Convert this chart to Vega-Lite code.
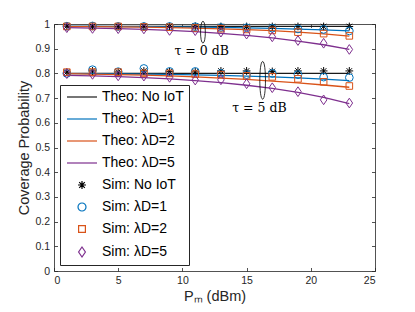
{
"$schema":"https://vega.github.io/schema/vega-lite/v6.json",
"autosize":"none",
"width":321,"height":247,
"padding":{"left":54,"top":24,"right":40,"bottom":41},
"background":"white",
"config":{"font":"Liberation Sans","view":{"stroke":null},
"axis":{"grid":false,"domainColor":"#262626","tickColor":"#262626","labelColor":"#262626","titleColor":"#262626","labelFontSize":10.5,"titleFontSize":14.5,"titleFontWeight":"normal","labelFont":"Liberation Sans","titleFont":"Liberation Sans","domainWidth":0.8,"tickWidth":0.8},
"legend":{"labelFont":"Liberation Sans","labelFontSize":14,"labelColor":"#000000","fillColor":"white","strokeColor":"#262626","padding":5,"cornerRadius":0}},
"datasets":{
"theo":[
{"P":1,"t":"0","s":"Theo: No IoT","v":0.99},{"P":3,"t":"0","s":"Theo: No IoT","v":0.99},{"P":5,"t":"0","s":"Theo: No IoT","v":0.99},{"P":7,"t":"0","s":"Theo: No IoT","v":0.99},{"P":9,"t":"0","s":"Theo: No IoT","v":0.99},{"P":11,"t":"0","s":"Theo: No IoT","v":0.99},{"P":13,"t":"0","s":"Theo: No IoT","v":0.99},{"P":15,"t":"0","s":"Theo: No IoT","v":0.99},{"P":17,"t":"0","s":"Theo: No IoT","v":0.99},{"P":19,"t":"0","s":"Theo: No IoT","v":0.99},{"P":21,"t":"0","s":"Theo: No IoT","v":0.99},{"P":23,"t":"0","s":"Theo: No IoT","v":0.99},
{"P":1,"t":"0","s":"Theo: λD=1","v":0.990},{"P":3,"t":"0","s":"Theo: λD=1","v":0.990},{"P":5,"t":"0","s":"Theo: λD=1","v":0.989},{"P":7,"t":"0","s":"Theo: λD=1","v":0.989},{"P":9,"t":"0","s":"Theo: λD=1","v":0.988},{"P":11,"t":"0","s":"Theo: λD=1","v":0.987},{"P":13,"t":"0","s":"Theo: λD=1","v":0.986},{"P":15,"t":"0","s":"Theo: λD=1","v":0.984},{"P":17,"t":"0","s":"Theo: λD=1","v":0.982},{"P":19,"t":"0","s":"Theo: λD=1","v":0.979},{"P":21,"t":"0","s":"Theo: λD=1","v":0.976},{"P":23,"t":"0","s":"Theo: λD=1","v":0.972},
{"P":1,"t":"0","s":"Theo: λD=2","v":0.989},{"P":3,"t":"0","s":"Theo: λD=2","v":0.989},{"P":5,"t":"0","s":"Theo: λD=2","v":0.988},{"P":7,"t":"0","s":"Theo: λD=2","v":0.987},{"P":9,"t":"0","s":"Theo: λD=2","v":0.985},{"P":11,"t":"0","s":"Theo: λD=2","v":0.983},{"P":13,"t":"0","s":"Theo: λD=2","v":0.980},{"P":15,"t":"0","s":"Theo: λD=2","v":0.977},{"P":17,"t":"0","s":"Theo: λD=2","v":0.973},{"P":19,"t":"0","s":"Theo: λD=2","v":0.967},{"P":21,"t":"0","s":"Theo: λD=2","v":0.960},{"P":23,"t":"0","s":"Theo: λD=2","v":0.951},
{"P":1,"t":"0","s":"Theo: λD=5","v":0.985},{"P":3,"t":"0","s":"Theo: λD=5","v":0.983},{"P":5,"t":"0","s":"Theo: λD=5","v":0.981},{"P":7,"t":"0","s":"Theo: λD=5","v":0.978},{"P":9,"t":"0","s":"Theo: λD=5","v":0.974},{"P":11,"t":"0","s":"Theo: λD=5","v":0.969},{"P":13,"t":"0","s":"Theo: λD=5","v":0.962},{"P":15,"t":"0","s":"Theo: λD=5","v":0.954},{"P":17,"t":"0","s":"Theo: λD=5","v":0.944},{"P":19,"t":"0","s":"Theo: λD=5","v":0.931},{"P":21,"t":"0","s":"Theo: λD=5","v":0.916},{"P":23,"t":"0","s":"Theo: λD=5","v":0.897},
{"P":1,"t":"5","s":"Theo: No IoT","v":0.80},{"P":3,"t":"5","s":"Theo: No IoT","v":0.80},{"P":5,"t":"5","s":"Theo: No IoT","v":0.80},{"P":7,"t":"5","s":"Theo: No IoT","v":0.80},{"P":9,"t":"5","s":"Theo: No IoT","v":0.80},{"P":11,"t":"5","s":"Theo: No IoT","v":0.80},{"P":13,"t":"5","s":"Theo: No IoT","v":0.80},{"P":15,"t":"5","s":"Theo: No IoT","v":0.80},{"P":17,"t":"5","s":"Theo: No IoT","v":0.80},{"P":19,"t":"5","s":"Theo: No IoT","v":0.80},{"P":21,"t":"5","s":"Theo: No IoT","v":0.80},{"P":23,"t":"5","s":"Theo: No IoT","v":0.80},
{"P":1,"t":"5","s":"Theo: λD=1","v":0.799},{"P":3,"t":"5","s":"Theo: λD=1","v":0.799},{"P":5,"t":"5","s":"Theo: λD=1","v":0.798},{"P":7,"t":"5","s":"Theo: λD=1","v":0.797},{"P":9,"t":"5","s":"Theo: λD=1","v":0.796},{"P":11,"t":"5","s":"Theo: λD=1","v":0.794},{"P":13,"t":"5","s":"Theo: λD=1","v":0.792},{"P":15,"t":"5","s":"Theo: λD=1","v":0.789},{"P":17,"t":"5","s":"Theo: λD=1","v":0.786},{"P":19,"t":"5","s":"Theo: λD=1","v":0.782},{"P":21,"t":"5","s":"Theo: λD=1","v":0.777},{"P":23,"t":"5","s":"Theo: λD=1","v":0.771},
{"P":1,"t":"5","s":"Theo: λD=2","v":0.799},{"P":3,"t":"5","s":"Theo: λD=2","v":0.797},{"P":5,"t":"5","s":"Theo: λD=2","v":0.795},{"P":7,"t":"5","s":"Theo: λD=2","v":0.793},{"P":9,"t":"5","s":"Theo: λD=2","v":0.790},{"P":11,"t":"5","s":"Theo: λD=2","v":0.786},{"P":13,"t":"5","s":"Theo: λD=2","v":0.781},{"P":15,"t":"5","s":"Theo: λD=2","v":0.776},{"P":17,"t":"5","s":"Theo: λD=2","v":0.769},{"P":19,"t":"5","s":"Theo: λD=2","v":0.762},{"P":21,"t":"5","s":"Theo: λD=2","v":0.753},{"P":23,"t":"5","s":"Theo: λD=2","v":0.744},
{"P":1,"t":"5","s":"Theo: λD=5","v":0.792},{"P":3,"t":"5","s":"Theo: λD=5","v":0.790},{"P":5,"t":"5","s":"Theo: λD=5","v":0.787},{"P":7,"t":"5","s":"Theo: λD=5","v":0.783},{"P":9,"t":"5","s":"Theo: λD=5","v":0.778},{"P":11,"t":"5","s":"Theo: λD=5","v":0.771},{"P":13,"t":"5","s":"Theo: λD=5","v":0.763},{"P":15,"t":"5","s":"Theo: λD=5","v":0.752},{"P":17,"t":"5","s":"Theo: λD=5","v":0.739},{"P":19,"t":"5","s":"Theo: λD=5","v":0.723},{"P":21,"t":"5","s":"Theo: λD=5","v":0.703},{"P":23,"t":"5","s":"Theo: λD=5","v":0.678}
],
"sim":[
{"P":1,"t":"0","s":"Sim: No IoT","v":0.991},{"P":3,"t":"0","s":"Sim: No IoT","v":0.991},{"P":5,"t":"0","s":"Sim: No IoT","v":0.99},{"P":7,"t":"0","s":"Sim: No IoT","v":0.99},{"P":9,"t":"0","s":"Sim: No IoT","v":0.99},{"P":11,"t":"0","s":"Sim: No IoT","v":0.991},{"P":13,"t":"0","s":"Sim: No IoT","v":0.99},{"P":15,"t":"0","s":"Sim: No IoT","v":0.99},{"P":17,"t":"0","s":"Sim: No IoT","v":0.99},{"P":19,"t":"0","s":"Sim: No IoT","v":0.99},{"P":21,"t":"0","s":"Sim: No IoT","v":0.99},{"P":23,"t":"0","s":"Sim: No IoT","v":0.99},
{"P":1,"t":"0","s":"Sim: λD=1","v":0.991},{"P":3,"t":"0","s":"Sim: λD=1","v":0.992},{"P":5,"t":"0","s":"Sim: λD=1","v":0.99},{"P":7,"t":"0","s":"Sim: λD=1","v":0.99},{"P":9,"t":"0","s":"Sim: λD=1","v":0.99},{"P":11,"t":"0","s":"Sim: λD=1","v":0.989},{"P":13,"t":"0","s":"Sim: λD=1","v":0.986},{"P":15,"t":"0","s":"Sim: λD=1","v":0.985},{"P":17,"t":"0","s":"Sim: λD=1","v":0.983},{"P":19,"t":"0","s":"Sim: λD=1","v":0.98},{"P":21,"t":"0","s":"Sim: λD=1","v":0.978},{"P":23,"t":"0","s":"Sim: λD=1","v":0.972},
{"P":1,"t":"0","s":"Sim: λD=2","v":0.99},{"P":3,"t":"0","s":"Sim: λD=2","v":0.99},{"P":5,"t":"0","s":"Sim: λD=2","v":0.99},{"P":7,"t":"0","s":"Sim: λD=2","v":0.988},{"P":9,"t":"0","s":"Sim: λD=2","v":0.987},{"P":11,"t":"0","s":"Sim: λD=2","v":0.984},{"P":13,"t":"0","s":"Sim: λD=2","v":0.981},{"P":15,"t":"0","s":"Sim: λD=2","v":0.978},{"P":17,"t":"0","s":"Sim: λD=2","v":0.974},{"P":19,"t":"0","s":"Sim: λD=2","v":0.967},{"P":21,"t":"0","s":"Sim: λD=2","v":0.961},{"P":23,"t":"0","s":"Sim: λD=2","v":0.952},
{"P":1,"t":"0","s":"Sim: λD=5","v":0.985},{"P":3,"t":"0","s":"Sim: λD=5","v":0.982},{"P":5,"t":"0","s":"Sim: λD=5","v":0.981},{"P":7,"t":"0","s":"Sim: λD=5","v":0.980},{"P":9,"t":"0","s":"Sim: λD=5","v":0.974},{"P":11,"t":"0","s":"Sim: λD=5","v":0.973},{"P":13,"t":"0","s":"Sim: λD=5","v":0.967},{"P":15,"t":"0","s":"Sim: λD=5","v":0.959},{"P":17,"t":"0","s":"Sim: λD=5","v":0.948},{"P":19,"t":"0","s":"Sim: λD=5","v":0.933},{"P":21,"t":"0","s":"Sim: λD=5","v":0.922},{"P":23,"t":"0","s":"Sim: λD=5","v":0.897},
{"P":1,"t":"5","s":"Sim: No IoT","v":0.805},{"P":3,"t":"5","s":"Sim: No IoT","v":0.81},{"P":5,"t":"5","s":"Sim: No IoT","v":0.806},{"P":7,"t":"5","s":"Sim: No IoT","v":0.81},{"P":9,"t":"5","s":"Sim: No IoT","v":0.807},{"P":11,"t":"5","s":"Sim: No IoT","v":0.806},{"P":13,"t":"5","s":"Sim: No IoT","v":0.81},{"P":15,"t":"5","s":"Sim: No IoT","v":0.81},{"P":17,"t":"5","s":"Sim: No IoT","v":0.808},{"P":19,"t":"5","s":"Sim: No IoT","v":0.81},{"P":21,"t":"5","s":"Sim: No IoT","v":0.81},{"P":23,"t":"5","s":"Sim: No IoT","v":0.81},
{"P":1,"t":"5","s":"Sim: λD=1","v":0.80},{"P":3,"t":"5","s":"Sim: λD=1","v":0.815},{"P":5,"t":"5","s":"Sim: λD=1","v":0.807},{"P":7,"t":"5","s":"Sim: λD=1","v":0.82},{"P":9,"t":"5","s":"Sim: λD=1","v":0.808},{"P":11,"t":"5","s":"Sim: λD=1","v":0.808},{"P":13,"t":"5","s":"Sim: λD=1","v":0.80},{"P":15,"t":"5","s":"Sim: λD=1","v":0.795},{"P":17,"t":"5","s":"Sim: λD=1","v":0.80},{"P":19,"t":"5","s":"Sim: λD=1","v":0.795},{"P":21,"t":"5","s":"Sim: λD=1","v":0.785},{"P":23,"t":"5","s":"Sim: λD=1","v":0.783},
{"P":1,"t":"5","s":"Sim: λD=2","v":0.805},{"P":3,"t":"5","s":"Sim: λD=2","v":0.805},{"P":5,"t":"5","s":"Sim: λD=2","v":0.805},{"P":7,"t":"5","s":"Sim: λD=2","v":0.80},{"P":9,"t":"5","s":"Sim: λD=2","v":0.80},{"P":11,"t":"5","s":"Sim: λD=2","v":0.797},{"P":13,"t":"5","s":"Sim: λD=2","v":0.795},{"P":15,"t":"5","s":"Sim: λD=2","v":0.79},{"P":17,"t":"5","s":"Sim: λD=2","v":0.786},{"P":19,"t":"5","s":"Sim: λD=2","v":0.778},{"P":21,"t":"5","s":"Sim: λD=2","v":0.766},{"P":23,"t":"5","s":"Sim: λD=2","v":0.749},
{"P":1,"t":"5","s":"Sim: λD=5","v":0.799},{"P":3,"t":"5","s":"Sim: λD=5","v":0.796},{"P":5,"t":"5","s":"Sim: λD=5","v":0.790},{"P":7,"t":"5","s":"Sim: λD=5","v":0.789},{"P":9,"t":"5","s":"Sim: λD=5","v":0.784},{"P":11,"t":"5","s":"Sim: λD=5","v":0.773},{"P":13,"t":"5","s":"Sim: λD=5","v":0.774},{"P":15,"t":"5","s":"Sim: λD=5","v":0.758},{"P":17,"t":"5","s":"Sim: λD=5","v":0.742},{"P":19,"t":"5","s":"Sim: λD=5","v":0.726},{"P":21,"t":"5","s":"Sim: λD=5","v":0.693},{"P":23,"t":"5","s":"Sim: λD=5","v":0.680}
],
"ann":[{"P":11.5,"v":0.889,"label":"τ = 0 dB"},{"P":16.0,"v":0.659,"label":"τ = 5 dB"}],
"ell1":[{"P":11.6,"v":0.967}],
"ell2":[{"P":16.25,"v":0.772}]
},
"layer":[
{"data":{"name":"theo"},"mark":{"type":"line","strokeWidth":1.3},
 "encoding":{
  "x":{"field":"P","type":"quantitative","scale":{"domain":[0,25],"nice":false},"axis":{"values":[0,5,10,15,20,25],"tickSize":-3.5,"labelPadding":8,"title":"Pₘ (dBm)","titlePadding":3}},
  "y":{"field":"v","type":"quantitative","scale":{"domain":[0,1],"nice":false},"axis":{"values":[0,0.1,0.2,0.3,0.4,0.5,0.6,0.7,0.8,0.9,1],"format":"~g","tickSize":-3.5,"labelPadding":8,"title":"Coverage Probability","titlePadding":3}},
  "color":{"field":"s","type":"nominal","scale":{"domain":["Theo: No IoT","Theo: λD=1","Theo: λD=2","Theo: λD=5","Sim: No IoT","Sim: λD=1","Sim: λD=2","Sim: λD=5"],"range":["#1a1a1a","#0072BD","#D95319","#7E2F8E","#000000","#0072BD","#D95319","#7E2F8E"]},
   "legend":{"title":null,"orient":"bottom-left","offset":6,"symbolStrokeWidth":1.2,"symbolSize":64,"rowPadding":8,"symbolOffset":10,"labelOffset":13}},
  "detail":{"field":"t"}}},
{"data":{"name":"sim"},"mark":{"type":"point","filled":false,"strokeWidth":1,"opacity":1,"size":60},
 "encoding":{
  "x":{"field":"P","type":"quantitative","axis":null},
  "y":{"field":"v","type":"quantitative","axis":null},
  "color":{"field":"s","type":"nominal"},
  "shape":{"field":"s","type":"nominal","scale":{"domain":["Theo: No IoT","Theo: λD=1","Theo: λD=2","Theo: λD=5","Sim: No IoT","Sim: λD=1","Sim: λD=2","Sim: λD=5"],"range":["M-3.75,0L3.75,0","M-3.75,0L3.75,0","M-3.75,0L3.75,0","M-3.75,0L3.75,0","M-1,0L1,0M0,-1L0,1M-0.7,-0.7L0.7,0.7M-0.7,0.7L0.7,-0.7","circle","M-0.85,-0.85L0.85,-0.85L0.85,0.85L-0.85,0.85Z","M0,-1.25L0.85,0L0,1.25L-0.85,0Z"]}}}},
{"data":{"name":"ann"},"mark":{"type":"text","font":"DejaVu Serif","fontSize":12.5,"color":"#000000","align":"center","baseline":"middle"},
 "encoding":{"x":{"field":"P","type":"quantitative","axis":null},"y":{"field":"v","type":"quantitative","axis":null},"text":{"field":"label"}}},
{"data":{"name":"ell1"},"mark":{"type":"point","shape":"M0,-1C0.29,-1 0.29,1 0,1C-0.29,1 -0.29,-1 0,-1Z","size":480,"filled":false,"stroke":"#000000","strokeWidth":0.8,"opacity":1},
 "encoding":{"x":{"field":"P","type":"quantitative","axis":{"orient":"top","labels":false,"title":null,"values":[0,5,10,15,20,25],"tickSize":-3.5}},"y":{"field":"v","type":"quantitative","axis":{"orient":"right","labels":false,"title":null,"values":[0,0.1,0.2,0.3,0.4,0.5,0.6,0.7,0.8,0.9,1],"tickSize":-3.5}}}},
{"data":{"name":"ell2"},"mark":{"type":"point","shape":"M0,-1C0.2,-1 0.2,1 0,1C-0.2,1 -0.2,-1 0,-1Z","size":1420,"filled":false,"stroke":"#000000","strokeWidth":0.8,"opacity":1},
 "encoding":{"x":{"field":"P","type":"quantitative","axis":null},"y":{"field":"v","type":"quantitative","axis":null}}}
],
"resolve":{"axis":{"x":"independent","y":"independent"}}
}
